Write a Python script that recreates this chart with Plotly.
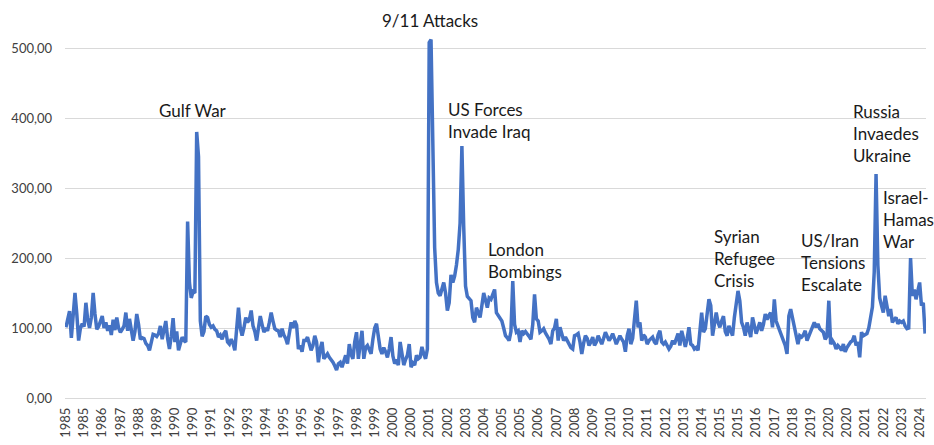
import pandas as pd
import plotly.graph_objects as go

# Monthly geopolitical risk index, January 1985 onwards
gpr_1985_1990 = [
    101, 115, 124, 86, 118, 150, 120, 82, 100, 106, 102, 136,
    112, 100, 115, 150, 120, 98, 102, 110, 117, 100, 108, 96,
    104, 90, 112, 97, 115, 100, 94, 98, 103, 122, 96, 113,
    98, 82, 95, 120, 105, 84, 86, 85, 78, 75, 68, 80,
    91, 90, 88, 92, 103, 84, 96, 110, 85, 70, 88, 114,
    80, 95, 68, 78, 87, 82, 80, 252, 165, 143, 152, 150,
]
gpr_1991_1996 = [
    380, 345, 110, 88, 95, 117, 115, 105, 101, 103, 98, 96,
    87, 90, 84, 92, 96, 80, 77, 84, 78, 68, 94, 129,
    100, 89, 100, 115, 108, 112, 125, 103, 95, 82, 100, 117,
    105, 94, 100, 96, 108, 122, 110, 99, 97, 96, 87, 99,
    90, 85, 77, 95, 108, 100, 110, 104, 70, 75, 66, 82,
    82, 87, 78, 68, 75, 89, 80, 51, 70, 80, 56, 60,
]
gpr_1997_2002 = [
    63, 58, 55, 51, 46, 40, 49, 51, 44, 52, 61, 49,
    77, 62, 56, 80, 94, 56, 80, 96, 56, 72, 75, 70,
    63, 84, 100, 106, 84, 70, 63, 72, 66, 58, 70, 87,
    60, 49, 55, 47, 80, 62, 47, 55, 61, 77, 44, 50,
    47, 61, 56, 58, 73, 63, 56, 70, 508, 512, 340, 215,
    165, 150, 146, 155, 165, 150, 125, 136, 176, 165, 174, 190,
]
gpr_2003_2008 = [
    212, 250, 360, 245, 160, 145, 141, 139, 115, 108, 129, 120,
    115, 132, 150, 140, 129, 143, 141, 148, 155, 122, 118, 115,
    110, 100, 89, 86, 82, 95, 167, 105, 94, 96, 80, 96,
    92, 95, 92, 88, 84, 105, 148, 113, 110, 94, 96, 99,
    93, 89, 84, 77, 96, 100, 113, 82, 101, 92, 82, 87,
    82, 75, 72, 70, 89, 90, 92, 80, 63, 78, 89, 85,
]
gpr_2009_2014 = [
    75, 80, 87, 75, 80, 89, 82, 77, 85, 94, 88, 82,
    86, 92, 85, 77, 83, 89, 84, 80, 66, 89, 99, 77,
    85, 120, 139, 101, 108, 82, 90, 87, 77, 82, 84, 87,
    80, 77, 90, 96, 80, 77, 80, 75, 70, 74, 82, 77,
    85, 92, 75, 96, 85, 73, 85, 101, 77, 75, 70, 72,
    68, 100, 122, 94, 99, 120, 141, 132, 89, 105, 122, 108,
]
gpr_2015_2020 = [
    101, 110, 117, 95, 89, 103, 96, 89, 115, 132, 153, 139,
    108, 101, 89, 108, 95, 87, 115, 100, 92, 100, 108, 96,
    105, 120, 112, 118, 122, 101, 141, 110, 103, 98, 89, 82,
    75, 63, 117, 127, 115, 105, 92, 77, 89, 87, 90, 96,
    82, 88, 94, 100, 108, 101, 106, 99, 96, 94, 84, 88,
    139, 77, 82, 78, 70, 75, 72, 68, 77, 66, 72, 77,
]
gpr_2021_2024 = [
    80, 82, 89, 75, 80, 58, 94, 89, 90, 92, 100, 117,
    130, 180, 320, 190, 143, 132, 122, 146, 130, 117, 127, 108,
    112, 115, 106, 110, 108, 110, 103, 99, 100, 200, 146, 155,
    141, 155, 165, 132, 136, 92,
]

gpr = (gpr_1985_1990 + gpr_1991_1996 + gpr_1997_2002 + gpr_2003_2008
       + gpr_2009_2014 + gpr_2015_2020 + gpr_2021_2024)
months = pd.date_range("1985-01-01", periods=len(gpr), freq="MS").strftime("%Y-%m").tolist()

# Year labels shown on every tenth month
tick_step = 10
tick_labels = [
    "1985", "1985", "1986", "1987", "1988", "1989", "1990", "1990", "1991", "1992",
    "1993", "1994", "1995", "1995", "1996", "1997", "1998", "1999", "2000", "2000",
    "2001", "2002", "2003", "2004", "2005", "2005", "2006", "2007", "2008", "2009",
    "2010", "2010", "2011", "2012", "2013", "2014", "2015", "2015", "2016", "2017",
    "2018", "2019", "2020", "2020", "2021", "2022", "2023", "2024",
]
tick_months = months[::tick_step][:len(tick_labels)]

y_ticks = [0, 100, 200, 300, 400, 500]
y_max = 530

# Event labels: (text, month index, value, horizontal anchor)
events = [
    ("Gulf War", 69.9, 411, "center"),
    ("9/11 Attacks", 200.2, 539, "center"),
    ("US Forces<br>Invade Iraq", 209.5, 397, "left"),
    ("London<br>Bombings", 231.0, 197, "left"),
    ("Syrian<br>Refugee<br>Crisis", 355.8, 199, "left"),
    ("US/Iran<br>Tensions<br>Escalate", 403.7, 193, "left"),
    ("Russia<br>Invaedes<br>Ukraine", 432.3, 378, "left"),
    ("Israel-<br>Hamas<br>War", 448.8, 255, "left"),
]

fig = go.Figure()
fig.add_trace(go.Scatter(
    x=months, y=gpr, mode="lines",
    line=dict(color="#4472C4", width=3.5),
    showlegend=False,
))

for text, xi, yv, anchor in events:
    # labels above the value range are placed on the paper scale so they stay visible
    fig.add_annotation(
        x=xi, y=yv / y_max, xref="x", yref="paper", text=text, showarrow=False,
        xanchor=anchor, yanchor="middle", align="left",
        font=dict(family="Lato", size=17, color="#1a1a1a"),
    )

fig.update_layout(
    width=934, height=445,
    margin=dict(l=65, r=7, t=27, b=42),
    paper_bgcolor="white", plot_bgcolor="white",
    separators=",.",
    font=dict(family="Lato", size=13, color="#404040"),
)
fig.update_xaxes(
    type="category",
    range=[-0.5, len(gpr) - 0.5],
    tickmode="array", tickvals=tick_months, ticktext=tick_labels,
    tickangle=-90, showgrid=False, showline=False, zeroline=False,
    ticks="", ticklabelstandoff=6,
    tickfont=dict(family="Lato", size=13, color="#404040"),
)
fig.update_yaxes(
    range=[0, y_max], tickmode="array", tickvals=y_ticks, tickformat=".2f",
    showgrid=True, gridcolor="#D9D9D9", gridwidth=1,
    zeroline=True, zerolinecolor="#D9D9D9", zerolinewidth=1,
    showline=False, ticks="", ticklabelstandoff=12,
    tickfont=dict(family="Lato", size=13, color="#404040"),
)

fig.write_html("out.html")
